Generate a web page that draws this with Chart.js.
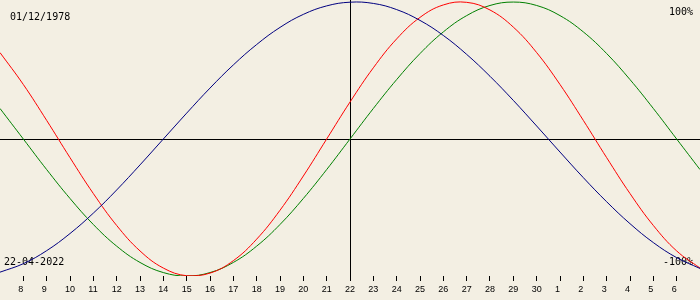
<!DOCTYPE html>
<html><head><meta charset="utf-8">
<script src="https://cdn.jsdelivr.net/npm/chart.js@4"></script>
<style>html,body{margin:0;padding:0;background:#f3efe3;}#wrap{width:700px;height:300px;}</style>
</head><body><div id="wrap"><canvas id="c" width="700" height="300"></canvas></div>
<script>
const dayOffsets = [-15,-14,-13,-12,-11,-10,-9,-8,-7,-6,-5,-4,-3,-2,-1,0,1,2,3,4,5,6,7,8,9,10,11,12,13,14,15];
const tickDays = [-14,-13,-12,-11,-10,-9,-8,-7,-6,-5,-4,-3,-2,-1,0,1,2,3,4,5,6,7,8,9,10,11,12,13,14];
const tickLabels = ['8','9','10','11','12','13','14','15','16','17','18','19','20','21','22','23','24','25','26','27','28','29','30','1','2','3','4','5','6'];
const physical = [0.631,0.398,0.136,-0.136,-0.398,-0.631,-0.817,-0.942,-0.998,-0.979,-0.888,-0.731,-0.520,-0.270,0,0.270,0.520,0.731,0.888,0.979,0.998,0.942,0.817,0.631,0.398,0.136,-0.136,-0.398,-0.631,-0.817,-0.942];
const emotional = [0.223,0,-0.223,-0.434,-0.624,-0.782,-0.901,-0.975,-1,-0.975,-0.901,-0.782,-0.624,-0.434,-0.223,0,0.223,0.434,0.624,0.782,0.901,0.975,1,0.975,0.901,0.782,0.624,0.434,0.223,0,-0.223];
const intellectual = [-0.972,-0.910,-0.815,-0.690,-0.541,-0.372,-0.189,0,0.189,0.372,0.541,0.690,0.815,0.910,0.972,0.999,0.990,0.945,0.866,0.756,0.618,0.458,0.282,0.095,-0.095,-0.282,-0.458,-0.618,-0.756,-0.866,-0.945];
const birthDate = '01/12/1978';
const currentDate = '22-04-2022';
const maxLabel = '100%';
const minLabel = '-100%';

const bgPlugin = {
  id: 'bg',
  beforeDraw(chart) {
    const ctx = chart.ctx;
    ctx.save();
    ctx.fillStyle = '#f3efe3';
    ctx.fillRect(0, 0, chart.width, chart.height);
    ctx.restore();
  }
};
const textPlugin = {
  id: 'corner',
  beforeDatasetsDraw(chart) {
    const ctx = chart.ctx;
    ctx.save();
    ctx.font = '10px "DejaVu Sans Mono"';
    ctx.fillStyle = '#000';
    ctx.textBaseline = 'middle';
    ctx.textAlign = 'left';
    ctx.fillText(birthDate, 10, 17);
    ctx.fillText(currentDate, 4, 262);
    ctx.textAlign = 'right';
    ctx.fillText(maxLabel, 693, 12.5);
    ctx.fillText(minLabel, 693, 262);
    ctx.restore();
  }
};

function series(vals) { return dayOffsets.map((x, i) => ({x: x, y: vals[i]})); }

new Chart(document.getElementById('c'), {
  type: 'line',
  data: {
    datasets: [
      {label: 'Intellectual', data: series(intellectual), borderColor: '#000080', borderWidth: 1, pointRadius: 0, tension: 0.4, fill: false},
      {label: 'Physical', data: series(physical), borderColor: '#ff0000', borderWidth: 1, pointRadius: 0, tension: 0.4, fill: false},
      {label: 'Emotional', data: series(emotional), borderColor: '#008000', borderWidth: 1, pointRadius: 0, tension: 0.4, fill: false}
    ]
  },
  options: {
    responsive: false,
    animation: false,
    layout: {padding: {left: 0, right: 0, top: 0, bottom: 2.2}},
    plugins: {legend: {display: false}, tooltip: {enabled: false}},
    scales: {
      x: {
        type: 'linear', min: -15, max: 15,
        afterBuildTicks: s => { s.ticks = tickDays.map(v => ({value: v})); },
        ticks: {
          callback: (v, i) => tickLabels[i],
          font: {family: 'Liberation Sans', size: 9},
          color: '#000', padding: 3, maxRotation: 0, autoSkip: false,
          align: 'start', labelOffset: -5
        },
        grid: {
          color: ctx => (ctx.tick && ctx.tick.value === 0) ? '#000' : 'rgba(0,0,0,0)',
          tickColor: '#000', tickLength: 5, lineWidth: 1
        },
        border: {display: false}
      },
      y: {
        min: -1, max: 1.015,
        afterBuildTicks: s => { s.ticks = [{value: 0}]; },
        ticks: {display: false},
        grid: {color: '#000', drawTicks: false, lineWidth: 1},
        border: {display: false}
      }
    }
  },
  plugins: [bgPlugin, textPlugin]
});
</script>
</body></html>
